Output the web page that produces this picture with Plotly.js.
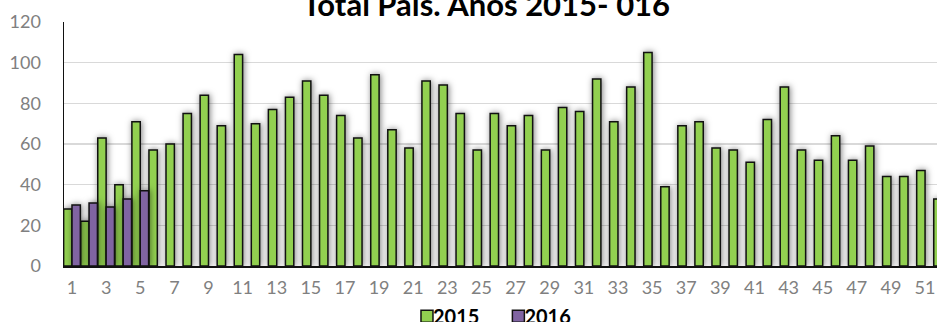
<!DOCTYPE html>
<html>
<head>
<meta charset="utf-8">
<script src="https://cdn.plot.ly/plotly-3.0.1.min.js"></script>
<style>
  html, body { margin: 0; padding: 0; background: #ffffff; overflow: hidden; }
  #chart { width: 937px; height: 322px; }
  /* soft outer shadow round each bar */
  .barlayer .point path { filter: drop-shadow(1px 0px 3px rgba(0,0,0,0.5)); }
  /* pull legend labels closer to their swatches */
  .legend .legendtext { transform: translate(-14px, 0px); }
</style>
</head>
<body>
<div id="chart"></div>
<script>
// Weekly totals, by epidemiological week
const weeks2015 = [1,2,3,4,5,6,7,8,9,10,11,12,13,14,15,16,17,18,19,20,21,22,23,24,25,26,
                   27,28,29,30,31,32,33,34,35,36,37,38,39,40,41,42,43,44,45,46,47,48,49,50,51,52];
const values2015 = [28,22,63,40,71,57,60,75,84,69,104,70,77,83,91,84,74,63,94,67,58,91,89,75,57,75,
                    69,74,57,78,76,92,71,88,105,39,69,71,58,57,51,72,88,57,52,64,52,59,44,44,47,33];
const weeks2016 = [1,2,3,4,5];
const values2016 = [30,31,29,33,37];
const seriesNames = ['2015', '2016'];
const xTickVals = [1,3,5,7,9,11,13,15,17,19,21,23,25,27,29,31,33,35,37,39,41,43,45,47,49,51];
const xTickText = xTickVals.map(String);
const yTickVals = [0,20,40,60,80,100,120];
const chartTitle = 'Total País. Años 2015- 016';

const outline = { color: '#111111', width: 1.5 };

const traces = [
  { type: 'bar', name: seriesNames[0], x: weeks2015, y: values2015,
    marker: { color: '#92D050', line: outline }, hoverinfo: 'x+y' },
  { type: 'bar', name: seriesNames[1], x: weeks2016, y: values2016,
    marker: { color: '#8064A2', line: outline }, hoverinfo: 'x+y' }
];

const tickFont = { family: 'Lato, "Open Sans", sans-serif', size: 18, color: '#808080' };

const layout = {
  width: 937, height: 322,
  margin: { l: 64, r: 0, t: 22, b: 56, pad: 0, autoexpand: false },
  paper_bgcolor: '#ffffff', plot_bgcolor: '#ffffff',
  barmode: 'group', bargap: 0.02, bargroupgap: 0,
  title: {
    text: chartTitle,
    font: { family: 'Lato, "Open Sans", sans-serif', size: 31, color: '#000000', weight: 'bold' },
    xref: 'container', x: 0.519, xanchor: 'center',
    yref: 'container', y: 0.984, yanchor: 'middle', automargin: false
  },
  xaxis: {
    range: [0.531, 51.70], fixedrange: true,
    tickmode: 'array', tickvals: xTickVals, ticktext: xTickText,
    tickfont: tickFont, ticks: '', ticklen: 0, ticklabelstandoff: 5,
    showgrid: false, zeroline: false, automargin: false,
    showline: true, linecolor: '#111111', linewidth: 1.5
  },
  yaxis: {
    range: [0, 120], fixedrange: true,
    tickmode: 'array', tickvals: yTickVals,
    tickfont: tickFont, ticks: '', ticklen: 0, ticklabelstandoff: 18,
    showgrid: true, gridcolor: '#d9d9d9', gridwidth: 1.3,
    zeroline: false, automargin: false,
    showline: true, linecolor: '#111111', linewidth: 1.5
  },
  shapes: [
    // white title box sitting over the top gridline
    { type: 'rect', layer: 'between', xref: 'paper', yref: 'paper',
      x0: 0.0367, x1: 0.930, y0: 0.97, y1: 1.05,
      fillcolor: '#ffffff', line: { width: 0 } }
  ],
  showlegend: true,
  legend: {
    orientation: 'h', xref: 'container', yref: 'container',
    x: 0.532, xanchor: 'center', y: 0.018, yanchor: 'middle',
    font: { family: 'Lato, "Open Sans", sans-serif', size: 20, color: '#000000', weight: 'bold' },
    itemwidth: 30, tracegroupgap: 0, bgcolor: 'rgba(0,0,0,0)'
  }
};

Plotly.newPlot('chart', traces, layout, { displayModeBar: false, responsive: false, staticPlot: true });
</script>
</body>
</html>
